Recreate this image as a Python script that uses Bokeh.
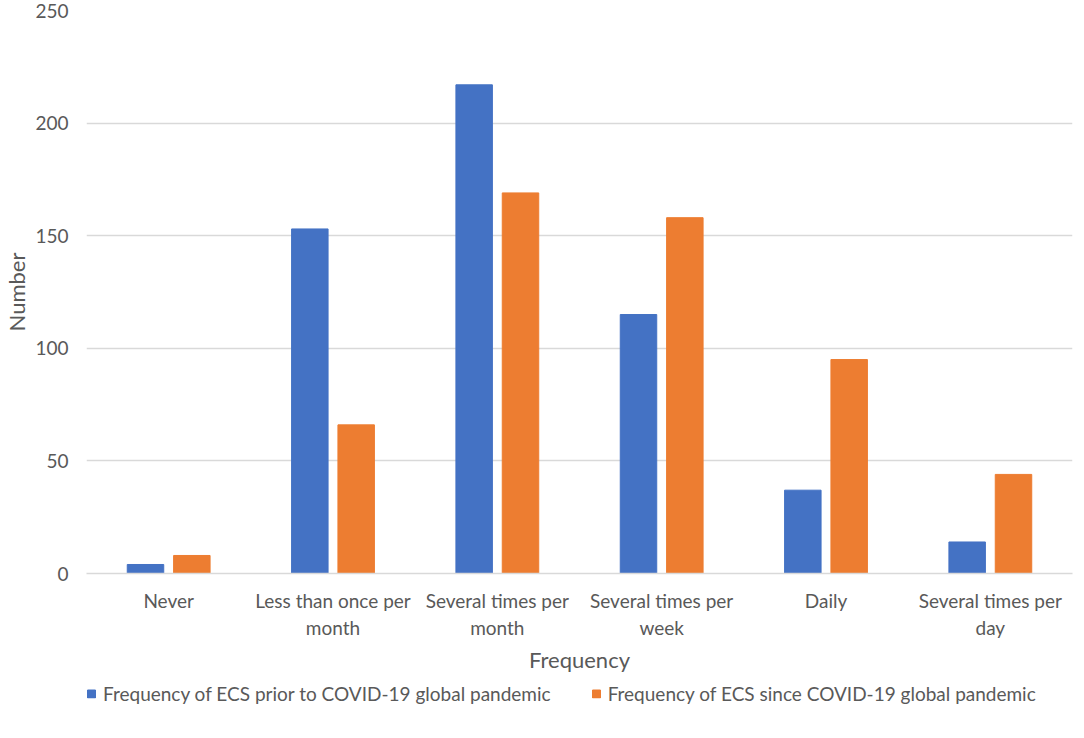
from bokeh.plotting import figure
from bokeh.layouts import column
from bokeh.models import ColumnDataSource, FactorRange, Legend, LegendItem, Range1d, FixedTicker
from bokeh.transform import dodge
from bokeh.embed import file_html
from bokeh.resources import INLINE

categories = ["Never", "Less than once per\nmonth", "Several times per\nmonth",
              "Several times per\nweek", "Daily", "Several times per\nday"]
prior = [4, 153, 217, 115, 37, 14]
since = [8, 66, 169, 158, 95, 44]
series_names = ["Frequency of ECS prior to COVID-19 global pandemic",
                "Frequency of ECS since COVID-19 global pandemic"]
y_ticks = [0, 50, 100, 150, 200, 250]

FONT = "Lato"
TXT = "#595959"
BLUE = "#4472C4"
ORANGE = "#ED7D31"

src = ColumnDataSource(data=dict(cat=categories, prior=prior, since=since))

p = figure(x_range=FactorRange(*categories), y_range=Range1d(0, 250),
           width=1076, height=676, output_backend="svg", toolbar_location=None,
           min_border_left=0, min_border_right=4, min_border_top=10, min_border_bottom=102)
p.outline_line_color = None

r1 = p.vbar(x=dodge("cat", -0.141, range=p.x_range), top="prior", width=0.222, source=src,
            fill_color=BLUE, line_color=BLUE)
r2 = p.vbar(x=dodge("cat", 0.141, range=p.x_range), top="since", width=0.222, source=src,
            fill_color=ORANGE, line_color=ORANGE)
p.x_range.range_padding = 0
p.x_range.group_padding = 0

p.yaxis.ticker = FixedTicker(ticks=y_ticks)
p.yaxis.axis_line_color = None
p.yaxis.major_tick_line_color = None
p.yaxis.minor_tick_line_color = None
p.yaxis.major_label_standoff = 12
p.yaxis.axis_label = "Number"
p.yaxis.axis_label_standoff = 2

p.xaxis.axis_line_color = "#D9D9D9"
p.xaxis.axis_line_width = 1.3
p.xaxis.major_tick_line_color = None
p.xaxis.minor_tick_line_color = None
p.xaxis.major_label_standoff = 9
p.xaxis.axis_label = "Frequency"
p.xaxis.axis_label_standoff = 4

for ax in (p.xaxis, p.yaxis):
    ax.major_label_text_font = FONT
    ax.major_label_text_font_size = "19px"
    ax.major_label_text_color = TXT
    ax.axis_label_text_font = FONT
    ax.axis_label_text_font_size = "22px"
    ax.axis_label_text_font_style = "normal"
    ax.axis_label_text_color = TXT

p.xgrid.grid_line_color = None
p.ygrid.grid_line_color = "#D9D9D9"
p.ygrid.grid_line_width = 1.3

# legend strip below the chart (its renderers are hidden; only swatches are shown)
lg = figure(width=1076, height=34, output_backend="svg", toolbar_location=None,
            x_range=FactorRange(*categories), y_range=Range1d(-2, -1),
            x_axis_location=None, y_axis_location=None,
            min_border_left=0, min_border_right=0, min_border_top=0, min_border_bottom=0)
lg.grid.visible = False
lg.outline_line_color = None
e1 = lg.vbar(x="cat", top="prior", width=0.2, source=src, fill_color=BLUE, line_color=BLUE)
e2 = lg.vbar(x="cat", top="since", width=0.2, source=src, fill_color=ORANGE, line_color=ORANGE)
e1.visible = False
e2.visible = False

legend = Legend(items=[LegendItem(label=series_names[0], renderers=[e1]),
                       LegendItem(label=series_names[1], renderers=[e2])],
                orientation="horizontal", location="left",
                label_text_font=FONT, label_text_font_size="19px", label_text_color=TXT,
                glyph_width=10, glyph_height=10, spacing=40, border_line_color=None,
                margin=0, padding=2, label_standoff=7, background_fill_alpha=0,
                inactive_fill_alpha=0)
lg.add_layout(legend, "center")

layout = column(p, lg, spacing=0)
open("out.html", "w").write(file_html(layout, INLINE))
